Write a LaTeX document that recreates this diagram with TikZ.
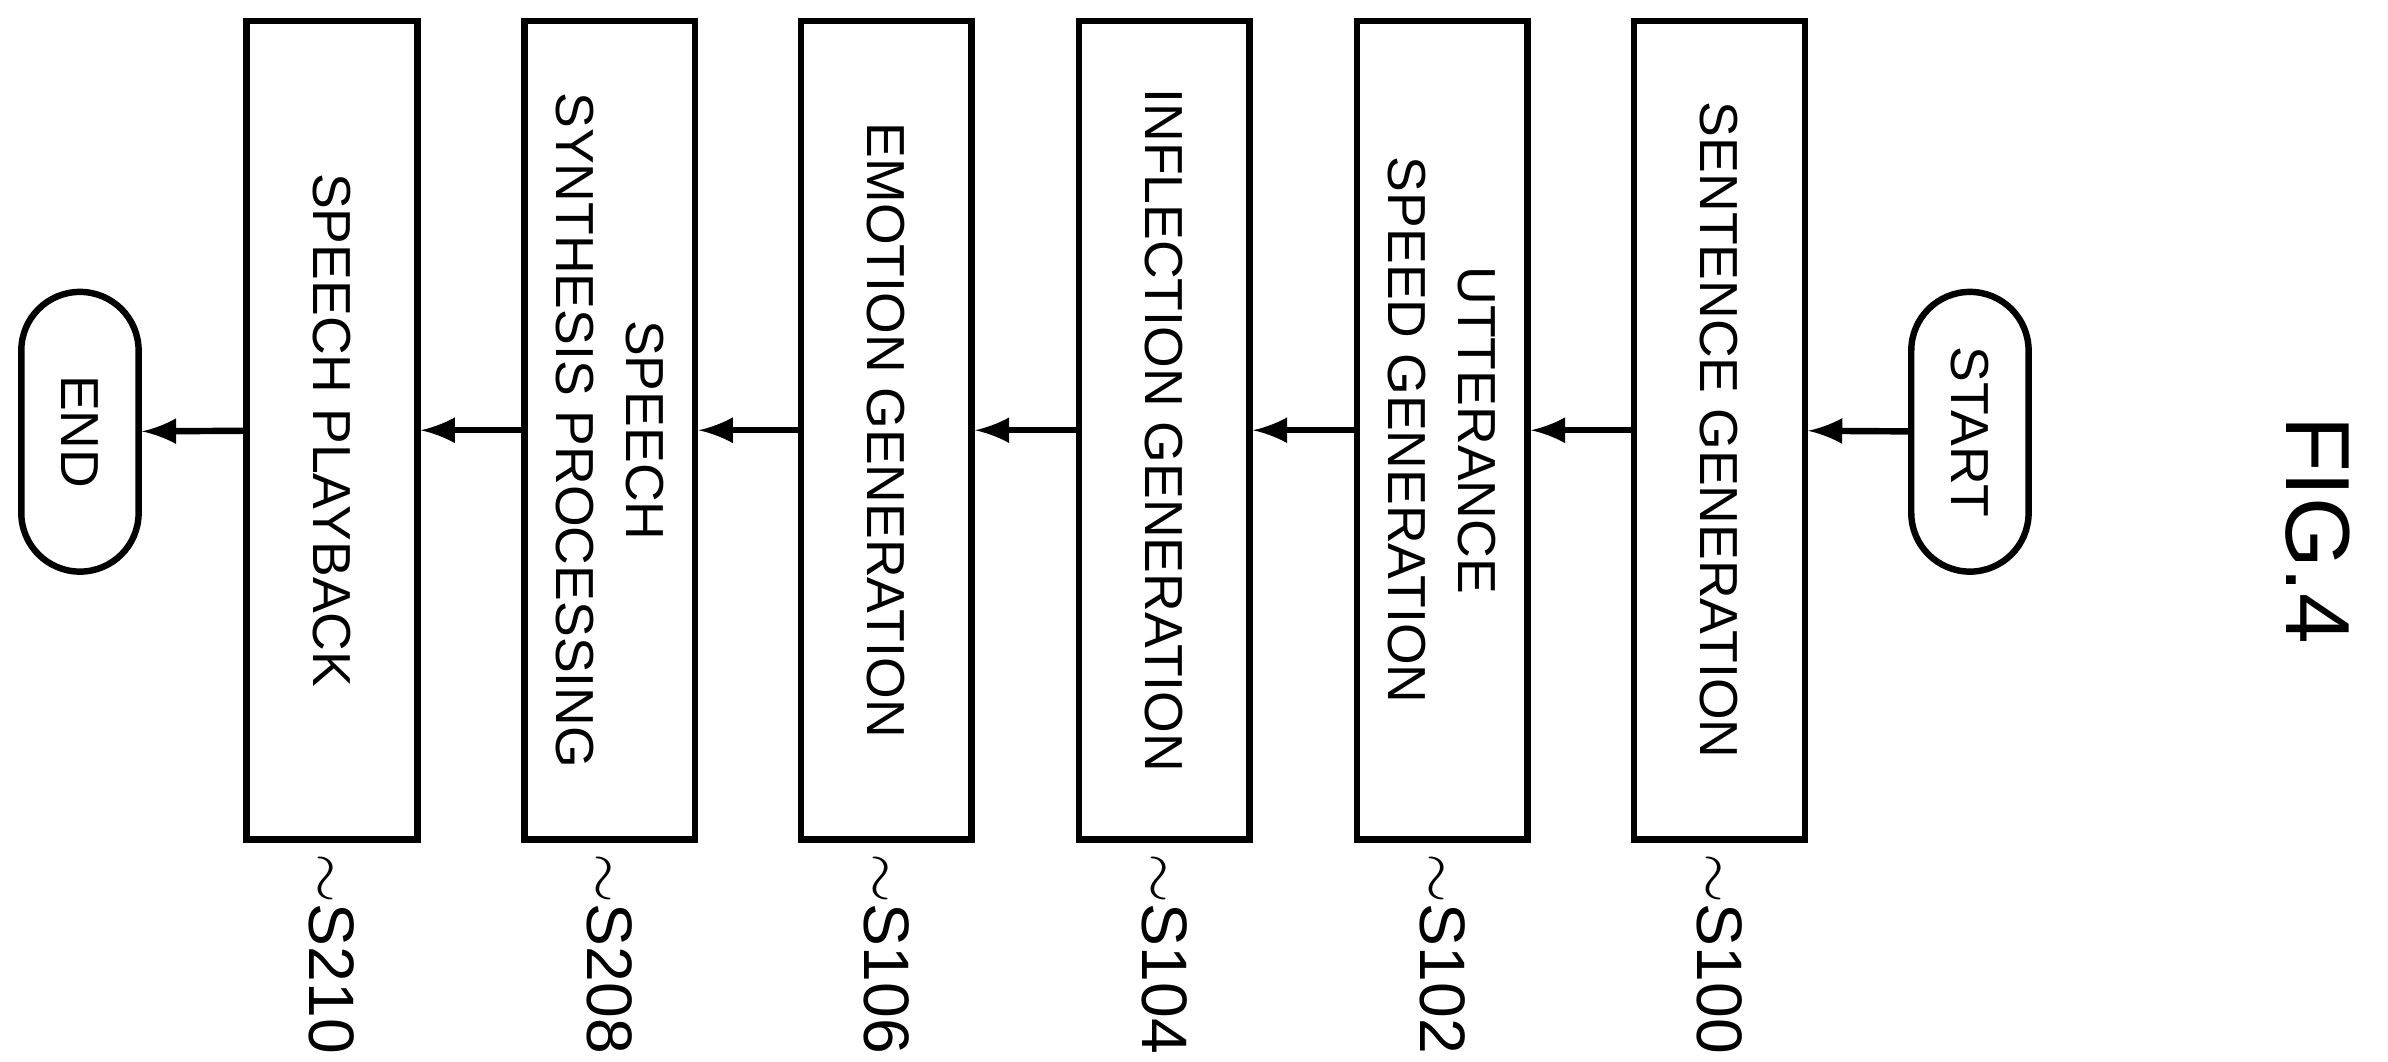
\documentclass[tikz,border=0pt]{standalone}
\usepackage{fontspec}
\setmainfont{Liberation Sans}
\usetikzlibrary{shapes.misc}
\tikzset{
  stepbox/.style={draw, line width=1.2pt, rotate=-90, minimum width=5.37cm, minimum height=1.12cm, align=center, font=\fontsize{10}{13}\selectfont},
  term/.style={draw, line width=1.2pt, rounded rectangle, rotate=-90, minimum width=2.07cm, minimum height=0.77cm, font=\fontsize{10}{12}\selectfont},
  tag/.style={rotate=-90, anchor=west, inner sep=0pt, font=\fontsize{12}{14}\selectfont}
}
\begin{document}
\begin{tikzpicture}[x=0.01cm, y=-0.01cm, >=latex]
\useasboundingbox (0,0) rectangle (1568,697);

\node[term] (start) at (1293.5,283.5) {START};
\node[term] (end) at (52.5,283.5) {END};

\node[stepbox] (s100) at (1129,282.5) {SENTENCE GENERATION};
\node[stepbox] (s102) at (947,282.5) {UTTERANCE\\SPEED GENERATION};
\node[stepbox] (s104) at (764.5,282.5) {INFLECTION GENERATION};
\node[stepbox] (s106) at (582,282.5) {EMOTION GENERATION};
\node[stepbox] (s208) at (400.5,282.5) {SPEECH\\SYNTHESIS PROCESSING};
\node[stepbox] (s210) at (218,282.5) {SPEECH PLAYBACK};

\node[tag] (t100) at (1129,560) {$\sim$S100};
\node[tag] (t102) at (947,560) {$\sim$S102};
\node[tag] (t104) at (764.5,560) {$\sim$S104};
\node[tag] (t106) at (582,560) {$\sim$S106};
\node[tag] (t208) at (400.5,560) {$\sim$S208};
\node[tag] (t210) at (218,560) {$\sim$S210};

\node[rotate=-90, font=\fontsize{17}{20}\selectfont] (fig) at (1522,348) {FIG.4};

\begin{scope}[line width=1.2pt,->]
\draw (start) -- (s100);
\draw (s100) -- (s102);
\draw (s102) -- (s104);
\draw (s104) -- (s106);
\draw (s106) -- (s208);
\draw (s208) -- (s210);
\draw (s210) -- (end);
\end{scope}

\end{tikzpicture}
\end{document}
